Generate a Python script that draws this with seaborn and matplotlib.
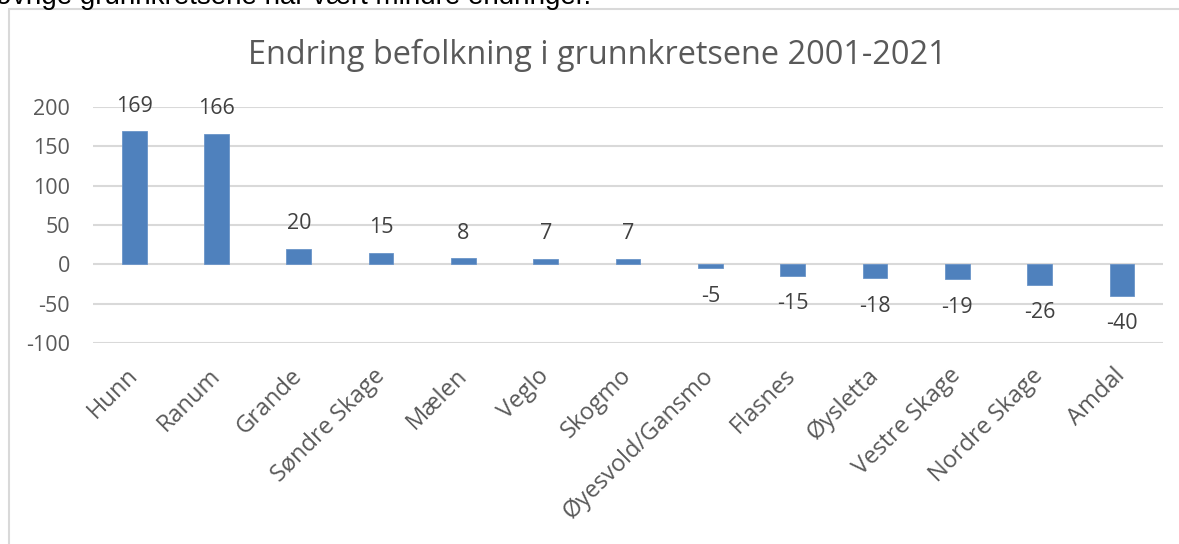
import seaborn as sns
import pandas as pd
import matplotlib.pyplot as plt
from matplotlib.patches import Rectangle

# grunnkretser og endring i befolkning 2001-2021
kretser = ["Hunn", "Ranum", "Grande", "Søndre Skage", "Mælen", "Veglo", "Skogmo",
           "Øyesvold/Gansmo", "Flasnes", "Øysletta", "Vestre Skage", "Nordre Skage", "Amdal"]
endring = [169, 166, 20, 15, 8, 7, 7, -5, -15, -18, -19, -26, -40]
yticks = [-100, -50, 0, 50, 100, 150, 200]

title = "Endring befolkning i grunnkretsene 2001-2021"
intro = "øvrige grunnkretsene har vært mindre endringer."


def plotData(df):
    sns.set_style("white")
    plt.rcParams['font.family'] = ['Open Sans', 'DejaVu Sans']
    plt.rcParams['axes.unicode_minus'] = False

    fig = plt.figure(figsize=(11.79, 5.44), dpi=100)
    ax = fig.add_axes([93 / 1179, 1 - 343 / 544, (1163 - 93) / 1179, (343 - 107) / 544])

    sns.barplot(data=df, x="krets", y="endring", color="#4F81BD", width=0.3,
                saturation=1, edgecolor="#6A94C8", linewidth=0.6, ax=ax, zorder=3)

    ax.set_ylim(yticks[0], yticks[-1])
    ax.set_yticks(yticks)
    ax.set_xlim(-0.5, len(df) - 0.5)
    ax.grid(axis="y", color="#D9D9D9", linewidth=1.5, zorder=0)
    for s in ax.spines.values():
        s.set_visible(False)
    ax.tick_params(axis="both", length=0, colors="#595959")
    ax.tick_params(axis="y", pad=16.5, labelsize=15.5)
    ax.tick_params(axis="x", pad=21, labelsize=17)
    ax.set_xlabel("")
    ax.set_ylabel("")
    plt.setp(ax.get_xticklabels(), rotation=45, ha="right", va="center", rotation_mode="anchor")

    # dataetiketter
    for i, v in enumerate(df["endring"]):
        off = 18 if v >= 0 else -20
        ax.annotate(str(v), (i, v), xytext=(0, off), textcoords="offset points",
                    ha="center", va="center", fontsize=15.5, color="#404040")

    fig.text(597 / 1179, 1 - 64 / 544, title, ha="center", va="baseline",
             fontsize=23.4, color="#595959")

    # ramme rundt diagrammet og teksten over
    fig.patches.append(Rectangle((9 / 1179, -0.1), 1.2, 1 - 9 / 544 + 0.1,
                                 transform=fig.transFigure, fill=False,
                                 edgecolor="#D9D9D9", linewidth=1.5))
    fig.text(-0.004, 1 - 4 / 544, intro, ha="left", va="baseline",
             fontsize=20, color="black", family=["Liberation Sans", "DejaVu Sans"])

    fig.savefig("out.png", dpi=100)


def main():
    df = pd.DataFrame({"krets": kretser, "endring": endring})
    plotData(df)


if __name__ == "__main__":
    main()
